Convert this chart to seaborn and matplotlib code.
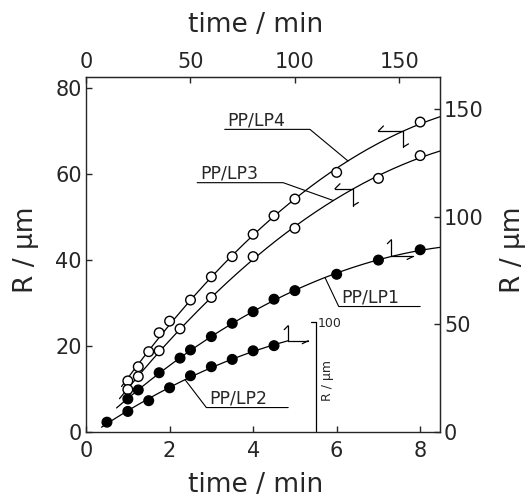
"""
Crecimiento del radio R frente al tiempo para las muestras PP/LP1-4.
"""
import numpy as np
import pandas as pd
import matplotlib
matplotlib.use("Agg")
import matplotlib.pyplot as plt
import seaborn as sns

# Datos (tiempo en min del eje inferior, R en um del eje izquierdo)
t_lp4 = [1.0, 1.25, 1.5, 1.75, 2.0, 2.5, 3.0, 3.5, 4.0, 4.5, 5.0, 6.0, 8.0]
r_lp4 = [11.8, 15.1, 18.6, 23.0, 25.7, 30.6, 36.0, 40.7, 45.9, 50.2, 54.1, 60.3, 72.0]
t_lp3 = [1.0, 1.25, 1.75, 2.25, 3.0, 4.0, 5.0, 7.0, 8.0]
r_lp3 = [9.8, 12.8, 18.8, 23.9, 31.2, 40.7, 47.3, 58.9, 64.2]
t_lp1 = [1.0, 1.25, 1.75, 2.25, 2.5, 3.0, 3.5, 4.0, 4.5, 5.0, 6.0, 7.0, 8.0]
r_lp1 = [7.6, 9.7, 13.7, 17.1, 19.0, 22.1, 25.2, 27.9, 30.8, 32.8, 36.6, 39.9, 42.3]
t_lp2 = [0.5, 1.0, 1.5, 2.0, 2.5, 3.0, 3.5, 4.0, 4.5]
r_lp2 = [2.2, 4.7, 7.2, 10.2, 13.0, 15.1, 16.8, 18.8, 20.0]

series = ['PP/LP4', 'PP/LP3', 'PP/LP1', 'PP/LP2']
tiempos = [t_lp4, t_lp3, t_lp1, t_lp2]
radios = [r_lp4, r_lp3, r_lp1, r_lp2]
relleno = {'PP/LP4': 'white', 'PP/LP3': 'white', 'PP/LP1': 'black', 'PP/LP2': 'black'}

# tramo de cada curva ajustada
tramos = {'PP/LP4': (0.85, 8.5), 'PP/LP3': (0.8, 8.5), 'PP/LP1': (0.73, 8.5), 'PP/LP2': (0.37, 4.84)}

# etiquetas: (x texto, y subrayado, x fin subrayado, x punto en la curva)
etiquetas = {
    'PP/LP4': (3.37, 70.3, 5.36, 6.27),
    'PP/LP3': (2.71, 57.9, 4.72, 5.92),
    'PP/LP1': (6.10, 29.1, 8.00, 5.72),
    'PP/LP2': (2.93, 5.6, 4.84, 2.37),
}

# flechas: (x origen, dx horizontal, dy vertical, barba horizontal, barba vertical)
flechas = {
    'PP/LP4': (7.60, -0.60, -3.7, (5, 5), (5, 3)),
    'PP/LP3': (6.40, -0.44, -3.9, (5, 5), (5, 3)),
    'PP/LP1': (7.31, 0.52, 3.9, (-6, -3), (-4, -4)),
    'PP/LP2': (4.84, 0.48, 3.5, (-6, -3), (-4, -4)),
}


def configurar_estilo():
    sns.set_style("ticks")
    plt.rcParams['font.family'] = ['DejaVu Sans']
    plt.rcParams['xtick.direction'] = 'in'
    plt.rcParams['ytick.direction'] = 'in'


def flecha(ax, x0, y0, x1, y1, barba):
    ax.plot([x0, x1], [y0, y1], color='k', lw=0.9)
    px, py = ax.transData.transform((x1, y1))
    bx, by = ax.transData.inverted().transform((px + barba[0], py + barba[1]))
    ax.plot([x1, bx], [y1, by], color='k', lw=0.9)


configurar_estilo()
fig = plt.figure(figsize=(5.28, 4.99), dpi=100)
ax = fig.add_axes([0.163, 0.135, 0.670, 0.710])
ax.set_xlim(0, 8.47)
ax.set_ylim(0, 82.4)

datos = pd.DataFrame({
    'serie': np.concatenate([[s] * len(t) for s, t in zip(series, tiempos)]),
    'tiempo': np.concatenate(tiempos),
    'R': np.concatenate(radios),
})

ajustes = {}
for s, t, r in zip(series, tiempos, radios):
    coef = np.polyfit(t, r, 2)
    ajustes[s] = np.poly1d(coef)
    xs = np.linspace(*tramos[s], 200)
    ax.plot(xs, ajustes[s](xs), color='k', lw=0.9, zorder=2)

sns.scatterplot(data=datos, x='tiempo', y='R', hue='serie', palette=relleno,
                edgecolor='black', linewidth=1.0, s=48, legend=False, zorder=3, ax=ax)

# etiquetas con subrayado y linea guia
for s, (xt, yu, xf, xc) in etiquetas.items():
    ax.text(xt + 0.02, yu + 0.9, s, fontsize=12.5, ha='left', va='baseline')
    ax.plot([xt - 0.05, xf, xc] if s != 'PP/LP1' and s != 'PP/LP2' else [xf, xt - 0.05, xc],
            [yu, yu, ajustes[s](xc)], color='k', lw=0.8)

for s, (x0, dx, dy, bh, bv) in flechas.items():
    y0 = ajustes[s](x0)
    flecha(ax, x0, y0, x0 + dx, y0, bh)
    flecha(ax, x0, y0, x0, y0 + dy, bv)

# escala auxiliar R / um para PP/LP2
ax.plot([5.5, 5.5], [0, 25.6], color='k', lw=0.9)
ax.plot([5.38, 5.5], [25.6, 25.6], color='k', lw=0.9)
ax.text(5.55, 25.2, '100', fontsize=9, ha='left', va='center')
ax.text(5.79, 12.0, 'R / µm', fontsize=9, rotation=90, ha='center', va='center')

ax.set_xticks([0, 2, 4, 6, 8])
ax.set_yticks([0, 20, 40, 60, 80])
ax.set_xlabel('')
ax.set_ylabel('')
ax.tick_params(labelsize=15, length=4, width=1, pad=7)
ax.tick_params(axis='y', pad=3)

arriba = ax.secondary_xaxis('top', functions=(lambda x: x * 20, lambda x: x / 20))
arriba.set_xticks([0, 50, 100, 150])
arriba.tick_params(labelsize=15, length=4, width=1, pad=4, direction='in')
derecha = ax.secondary_yaxis('right', functions=(lambda y: y * 2, lambda y: y / 2))
derecha.set_yticks([0, 50, 100, 150])
derecha.tick_params(labelsize=15, length=4, width=1, pad=3, direction='in')

for sp in list(ax.spines.values()):
    sp.set_linewidth(1.0)

fig.text(0.485, 0.95, 'time / min', fontsize=19, ha='center', va='center')
fig.text(0.485, 0.028, 'time / min', fontsize=19, ha='center', va='center')
fig.text(0.05, 0.50, 'R / µm', fontsize=19, rotation=90, ha='center', va='center')
fig.text(0.972, 0.50, 'R / µm', fontsize=19, rotation=90, ha='center', va='center')

fig.savefig('out.png', dpi=100)
plt.close(fig)
